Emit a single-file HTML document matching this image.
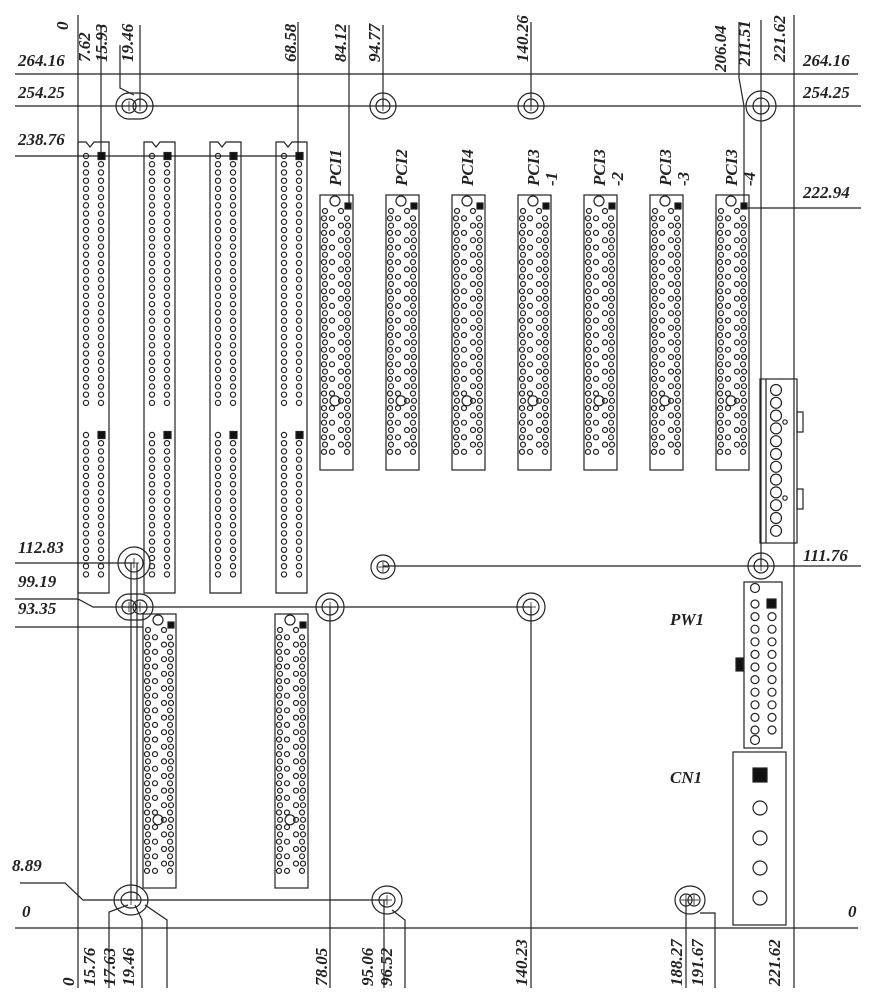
<!DOCTYPE html>
<html><head><meta charset="utf-8"><style>
html,body{margin:0;padding:0;background:#fff;}
svg{display:block;}
text{font-family:"Liberation Serif",serif;font-weight:bold;font-style:italic;font-size:17px;fill:#222;}
</style></head><body>
<svg id="s" width="876" height="1000" viewBox="0 0 876 1000" xmlns="http://www.w3.org/2000/svg" stroke="#222" fill="none" stroke-width="1.2">
<g id="lines">
<line x1="78" y1="15" x2="78" y2="988"/>
<line x1="794" y1="15" x2="794" y2="988"/>
<line x1="15" y1="74" x2="858" y2="74"/>
<line x1="15" y1="106" x2="861" y2="106"/>
<line x1="15" y1="156" x2="298" y2="156"/>
<line x1="744" y1="208" x2="861" y2="208"/>
<line x1="383" y1="566" x2="861" y2="566"/>
<line x1="15" y1="563" x2="134" y2="563"/>
<polyline points="15,599 78,599 93,607 531,607"/>
<line x1="15" y1="627" x2="143" y2="627"/>
<polyline points="20,883 65,883 83,900 387,900"/>
<line x1="15" y1="928" x2="858" y2="928"/>
<line x1="101" y1="25" x2="101" y2="160"/>
<polyline points="120,45 120,88 134,95"/>
<line x1="140" y1="25" x2="140" y2="106"/>
<line x1="298" y1="22" x2="298" y2="156"/>
<line x1="349" y1="25" x2="349" y2="208"/>
<line x1="383" y1="25" x2="383" y2="106"/>
<line x1="531" y1="22" x2="531" y2="106"/>
<polyline points="739,22 739,78 744,106 744,208"/>
<line x1="761" y1="20" x2="761" y2="566"/>
<line x1="131" y1="563" x2="131" y2="900"/>
<line x1="137" y1="563" x2="137" y2="900"/>
<line x1="330" y1="607" x2="330" y2="988"/>
<line x1="531" y1="607" x2="531" y2="988"/>
<polyline points="109,988 109,912 128,905"/>
<polyline points="142,988 142,920 135,905"/>
<polyline points="167,988 167,920 145,905"/>
<line x1="384" y1="900" x2="384" y2="988"/>
<polyline points="405,988 405,920 392,910"/>
<line x1="686" y1="900" x2="686" y2="988"/>
<polyline points="715,988 715,913 700,913"/>
</g>
<g id="holes"></g>
<g id="parts"></g>
<g id="txt" stroke="none">
<text x="18" y="66">264.16</text>
<text x="18" y="98">254.25</text>
<text x="18" y="145">238.76</text>
<text x="18" y="553">112.83</text>
<text x="18" y="587">99.19</text>
<text x="18" y="614">93.35</text>
<text x="12" y="871">8.89</text>
<text x="22" y="917">0</text>
<text x="803" y="66">264.16</text>
<text x="803" y="98">254.25</text>
<text x="803" y="198">222.94</text>
<text x="803" y="561">111.76</text>
<text x="848" y="917">0</text>
<text x="670" y="625" font-size="22">PW1</text>
<text x="670" y="783" font-size="22">CN1</text>
</g>
</svg>
<script>
var NS="http://www.w3.org/2000/svg";
function el(p,n,a,t){var e=document.createElementNS(NS,n);for(var k in a)e.setAttribute(k,a[k]);if(t!==undefined)e.textContent=t;document.getElementById(p).appendChild(e);return e;}
function circ(p,x,y,r,f){return el(p,"circle",{cx:x,cy:y,r:r,fill:f||"none"});}
function rect(p,x,y,w,h,f){return el(p,"rect",{x:x,y:y,width:w,height:h,fill:f||"none"});}
function cross(x,y){el("holes","line",{x1:x-5,y1:y,x2:x+5,y2:y,"stroke-width":0.8});el("holes","line",{x1:x,y1:y-5,x2:x,y2:y+5,"stroke-width":0.8});}
function hole(x,y,R,r){circ("holes",x,y,R);circ("holes",x,y,r);cross(x,y);}
function dbl(x1,x2,y){
 el("holes","path",{d:"M"+x1+","+(y-13)+" L"+x2+","+(y-13)+" A13,13 0 0 1 "+x2+","+(y+13)+" L"+x1+","+(y+13)+" A13,13 0 0 1 "+x1+","+(y-13)});
 circ("holes",x1,y,7);circ("holes",x2,y,7);cross(x1,y);cross(x2,y);}
hole(383,106,13,7);hole(531,106,13,7);hole(761,106,15,8);
dbl(129,140,106);
hole(134,563,16,9);hole(383,567,12,6);hole(761,566,13,7);
dbl(129,140,607);hole(330,607,14,8);hole(531,607,14,8);
el("holes","ellipse",{cx:131,cy:900,rx:17,ry:15});el("holes","ellipse",{cx:131,cy:900,rx:10,ry:8});cross(131,900);
el("holes","ellipse",{cx:387,cy:900,rx:15,ry:14});el("holes","ellipse",{cx:387,cy:900,rx:8,ry:7});cross(387,900);
el("holes","ellipse",{cx:690,cy:900,rx:15,ry:14});circ("holes",686,900,6);circ("holes",694,900,6);cross(686,900);cross(694,900);
[78,144,210,276].forEach(function(x){
 el("parts","path",{d:"M"+x+",142 L"+(x+8)+",142 L"+(x+12)+",147 L"+(x+16)+",142 L"+(x+31)+",142 L"+(x+31)+",593 L"+x+",593 Z"});
 for(var i=0;i<31;i++){var y=156+i*8.23;circ("parts",x+8,y,2.6);if(i==0)rect("parts",x+20,y-3.5,7,7,"#111");else circ("parts",x+23,y,2.6);}
 for(var i=0;i<18;i++){var y=435+i*8.2;circ("parts",x+8,y,2.6);if(i==0)rect("parts",x+20,y-3.5,7,7,"#111");else circ("parts",x+23,y,2.6);}
});
function pci(x,y,h){
 rect("parts",x,y,33,h);
 circ("parts",x+15,y+6,5);rect("parts",x+25,y+8,6,6,"#111");
 var n=Math.floor((h-20)/7.3);
 for(var i=0;i<n;i++){var yy=y+16+i*7.3;var cols=[x+5,x+13,x+21,x+28];
  for(var c=0;c<4;c++){ if(i==0&&c==3)continue; if(Math.abs(i-Math.round(n*0.75))<1&&c==1){circ("parts",x+15,yy,5);continue;} if((i+c)%2==0||c==3||c==0)circ("parts",cols[c]-(i%2?1:0),yy,2.5);}}
}
[320,386,452,518,584,650,716].forEach(function(x){pci(x,195,275);});
pci(143,614,274);pci(275,614,274);
var labs=[["PCI1"],["PCI2"],["PCI4"],["PCI3","-1"],["PCI3","-2"],["PCI3","-3"],["PCI3","-4"]];
labs.forEach(function(l,i){var cx=[320,386,452,518,584,650,716][i];
 el("txt","text",{transform:"translate("+(cx+21)+",186) rotate(-90)","font-size":"19"},l[0]);
 if(l[1])el("txt","text",{transform:"translate("+(cx+39)+",186) rotate(-90)","font-size":"19"},l[1]);});
rect("parts",760,379,37,164);el("parts","line",{x1:766,y1:379,x2:766,y2:543});
for(var i=0;i<12;i++)circ("parts",776,390+i*12.8,5.5);
circ("parts",785,422,2.2);circ("parts",785,498,2.2);
rect("parts",797,412,6,20);rect("parts",797,489,6,20);
rect("parts",744,582,38,166);circ("parts",755,588,4.5);circ("parts",755,740,4.5);
for(var i=0;i<11;i++){var y=604+i*12.6;circ("parts",755,y,4);if(i==0)rect("parts",767,599,9,9,"#111");else circ("parts",772,y,4);}
rect("parts",736,658,7,13,"#111");
rect("parts",733,752,53,173);
rect("parts",753,768,14,14,"#111");[808,838,868,898].forEach(function(y){circ("parts",760,y,7);});
function rl(x,y,s){el("txt","text",{transform:"translate("+x+","+y+") rotate(-90)","font-size":"18"},s);}
rl(68,30,"0");rl(90,62,"7.62");rl(107,62,"15.93");rl(133,62,"19.46");rl(296,62,"68.58");
rl(346,62,"84.12");rl(380,62,"94.77");rl(528,62,"140.26");rl(726,72,"206.04");rl(750,66,"211.51");rl(785,62,"221.62");
rl(74,986,"0");rl(95,986,"15.76");rl(115,986,"17.63");rl(134,986,"19.46");rl(327,986,"78.05");
rl(373,986,"95.06");rl(392,986,"96.52");rl(527,986,"140.23");rl(682,986,"188.27");rl(703,986,"191.67");rl(780,986,"221.62");
</script>
</body></html>
